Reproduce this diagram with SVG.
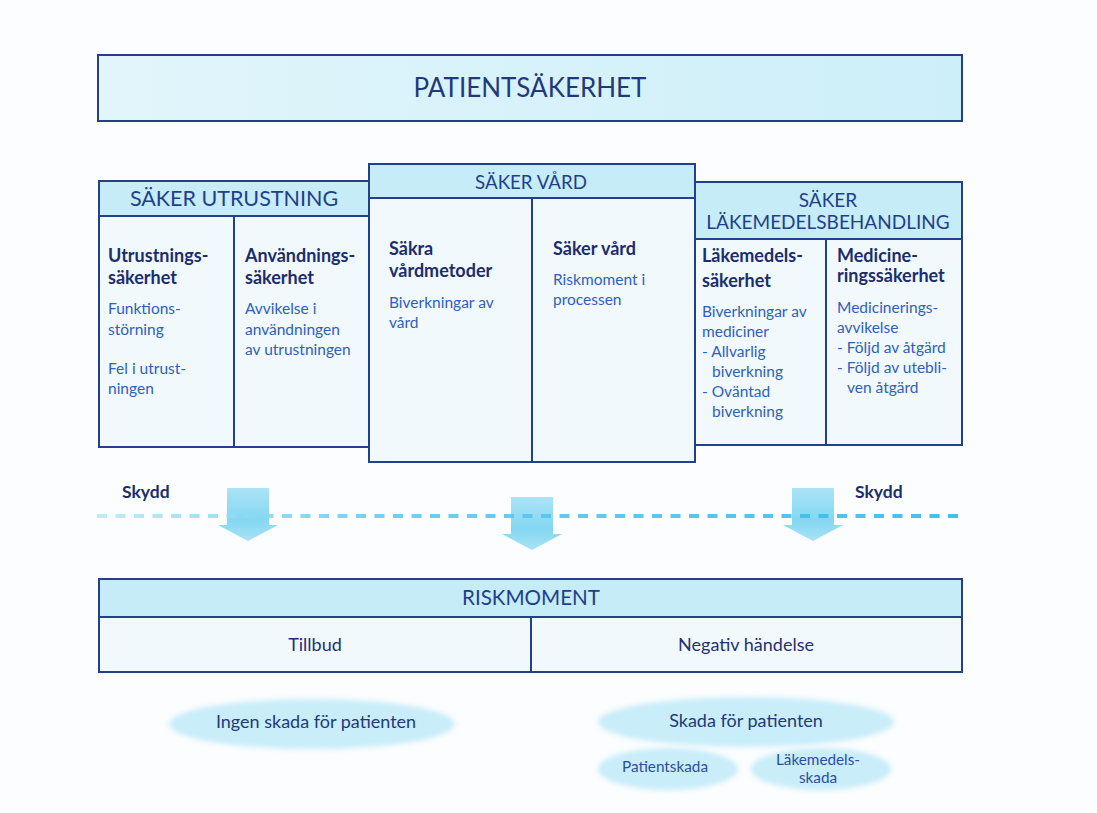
<svg xmlns="http://www.w3.org/2000/svg" width="1097" height="813" viewBox="0 0 1097 813">
  <style>
    .box { fill: #f1f9fd; stroke: #23408a; stroke-width: 2; }
    .hdr { fill: #c6ecf7; stroke: #23408a; stroke-width: 2; }
    .div { stroke: #23408a; stroke-width: 2; }
    text { font-family: Lato, "Liberation Sans", sans-serif; }
    .title { font-size: 19px; fill: #1f3f8c; text-anchor: middle; }
    .big { font-size: 26px; fill: #1f3a7c; text-anchor: middle; }
    .head { font-size: 18px; font-weight: bold; fill: #1b2d6c; }
    .body { font-size: 15.5px; fill: #2f5fbd; }
    .lbl { font-size: 18px; fill: #1e2f7a; text-anchor: middle; }
    .skydd { font-size: 17.5px; font-weight: bold; fill: #1b2d6c; }
    .oval { font-size: 18px; fill: #1f3a7c; text-anchor: middle; }
    .small { font-size: 15.3px; fill: #2b4fa0; text-anchor: middle; }
    .bubble { fill: #c9edf9; filter: url(#soft); }
  </style>
  <defs>
    <linearGradient id="topfill" x1="0" y1="0" x2="1" y2="0">
      <stop offset="0" stop-color="#e2f5fb"/>
      <stop offset="1" stop-color="#cdeff9"/>
    </linearGradient>
    <linearGradient id="arrowfill" x1="0" y1="0" x2="0" y2="1">
      <stop offset="0" stop-color="#9ddff5"/>
      <stop offset="0.6" stop-color="#6fd0f0"/>
      <stop offset="1" stop-color="#9adef5"/>
    </linearGradient>
    <linearGradient id="dashfade" gradientUnits="userSpaceOnUse" x1="97" y1="0" x2="962" y2="0">
      <stop offset="0" stop-color="#bfe8f6"/>
      <stop offset="0.35" stop-color="#62c9ee"/>
      <stop offset="1" stop-color="#2ebae8"/>
    </linearGradient>
    <filter id="soft" x="-10%" y="-30%" width="120%" height="160%">
      <feGaussianBlur stdDeviation="2.5"/>
    </filter>
    <path id="blockarrow" d="M -21 0 H 21 V 37 H 30 L 0 53 L -30 37 H -21 Z"/>
  </defs>

  <rect width="1097" height="813" fill="#fbfdfe"/>

  <!-- top banner -->
  <g id="patientsakerhet">
    <rect x="98" y="55" width="864" height="66" fill="url(#topfill)" stroke="#23408a" stroke-width="2"/>
    <text class="big" x="530" y="97">PATIENTSÄKERHET</text>
  </g>

  <!-- equipment column -->
  <g id="saker-utrustning">
    <rect class="box" x="99" y="181" width="270" height="266"/>
    <rect class="hdr" x="99" y="181" width="270" height="35"/>
    <line class="div" x1="234" y1="216" x2="234" y2="447"/>
    <text class="title" x="234" y="206" style="font-size:21.5px">SÄKER UTRUSTNING</text>
    <text class="head" x="108" y="262">Utrustnings-</text>
    <text class="head" x="108" y="284">säkerhet</text>
    <text class="body" x="108" y="314">Funktions-</text>
    <text class="body" x="108" y="335">störning</text>
    <text class="body" x="108" y="374">Fel i utrust-</text>
    <text class="body" x="108" y="394">ningen</text>
    <text class="head" x="245" y="262">Användnings-</text>
    <text class="head" x="245" y="284">säkerhet</text>
    <text class="body" x="245" y="314">Avvikelse i</text>
    <text class="body" x="245" y="335">användningen</text>
    <text class="body" x="245" y="355">av utrustningen</text>
  </g>

  <!-- medication column -->
  <g id="saker-lakemedelsbehandling">
    <rect class="box" x="695" y="182" width="267" height="263"/>
    <rect class="hdr" x="695" y="182" width="267" height="57"/>
    <line class="div" x1="826" y1="239" x2="826" y2="445"/>
    <text class="title" x="828" y="207">SÄKER</text>
    <text class="title" x="828" y="229">LÄKEMEDELSBEHANDLING</text>
    <text class="head" x="702" y="262">Läkemedels-</text>
    <text class="head" x="702" y="287">säkerhet</text>
    <text class="body" x="702" y="317">Biverkningar av</text>
    <text class="body" x="702" y="337">mediciner</text>
    <text class="body" x="702" y="357">- Allvarlig</text>
    <text class="body" x="712" y="377">biverkning</text>
    <text class="body" x="702" y="397">- Oväntad</text>
    <text class="body" x="712" y="417">biverkning</text>
    <text class="head" x="837" y="262">Medicine-</text>
    <text class="head" x="837" y="282">ringssäkerhet</text>
    <text class="body" x="837" y="313">Medicinerings-</text>
    <text class="body" x="837" y="333">avvikelse</text>
    <text class="body" x="837" y="353">- Följd av åtgärd</text>
    <text class="body" x="837" y="373">- Följd av utebli-</text>
    <text class="body" x="847" y="393">ven åtgärd</text>
  </g>

  <!-- care column, drawn on top -->
  <g id="saker-vard">
    <rect class="box" x="369" y="164" width="326" height="298"/>
    <rect class="hdr" x="369" y="164" width="326" height="34"/>
    <line class="div" x1="532" y1="198" x2="532" y2="462"/>
    <text class="title" x="531" y="189" style="font-size:18.7px">SÄKER VÅRD</text>
    <text class="head" x="389" y="255">Säkra</text>
    <text class="head" x="389" y="277">vårdmetoder</text>
    <text class="body" x="389" y="308">Biverkningar av</text>
    <text class="body" x="389" y="328">vård</text>
    <text class="head" x="553" y="255">Säker vård</text>
    <text class="body" x="553" y="285">Riskmoment i</text>
    <text class="body" x="553" y="305">processen</text>
  </g>

  <!-- protection barrier and flow arrows -->
  <g id="connectors">
    <use href="#blockarrow" x="248" y="488" fill="url(#arrowfill)" opacity="0.85"/>
    <use href="#blockarrow" x="532" y="497" fill="url(#arrowfill)" opacity="0.85"/>
    <use href="#blockarrow" x="813" y="488" fill="url(#arrowfill)" opacity="0.85"/>
    <line x1="97" y1="516" x2="962" y2="516" stroke="url(#dashfade)" stroke-width="4" stroke-dasharray="10 8.5" opacity="0.9"/>
  </g>
  <g id="skydd-left"><text class="skydd" x="122" y="498">Skydd</text></g>
  <g id="skydd-right"><text class="skydd" x="855" y="498">Skydd</text></g>

  <!-- risk box -->
  <g id="riskmoment">
    <rect class="box" x="99" y="579" width="863" height="93"/>
    <rect class="hdr" x="99" y="579" width="863" height="38"/>
    <line class="div" x1="531" y1="617" x2="531" y2="672"/>
    <text class="title" x="531" y="605" style="font-size:20.6px">RISKMOMENT</text>
    <text class="lbl" x="315" y="651">Tillbud</text>
    <text class="lbl" x="746" y="651">Negativ händelse</text>
  </g>

  <!-- outcomes -->
  <g id="ingen-skada">
    <ellipse class="bubble" cx="312" cy="724" rx="143" ry="25"/>
    <text class="oval" x="316" y="728">Ingen skada för patienten</text>
  </g>
  <g id="patientskada">
    <ellipse class="bubble" cx="668" cy="769" rx="70" ry="21"/>
    <text class="small" x="665" y="772">Patientskada</text>
  </g>
  <g id="lakemedelsskada">
    <ellipse class="bubble" cx="821" cy="769" rx="70" ry="21"/>
    <text class="small" x="818" y="765">Läkemedels-</text>
    <text class="small" x="818" y="783">skada</text>
  </g>
  <g id="skada">
    <ellipse class="bubble" cx="746" cy="722" rx="148" ry="25"/>
    <text class="oval" x="746" y="727">Skada för patienten</text>
  </g>
</svg>
